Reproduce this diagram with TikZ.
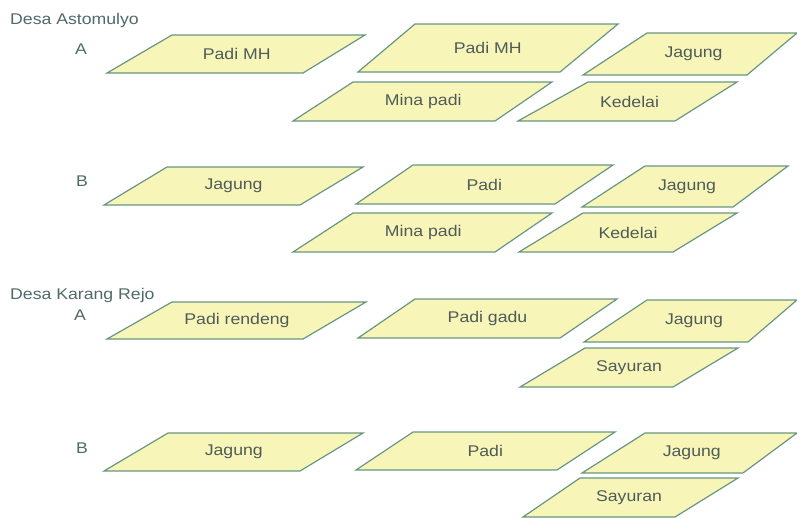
\documentclass[tikz,border=0pt]{standalone}
\usepackage{fontspec}
\setmainfont[FakeStretch=1.14]{Liberation Sans}

\definecolor{fieldfill}{RGB}{248,245,185}
\definecolor{fieldline}{RGB}{105,150,130}
\definecolor{fieldink}{RGB}{78,92,88}
\definecolor{villageink}{RGB}{80,105,105}

% #1 name, #2 top left x, #3 top right x, #4 top y, #5 bottom left x, #6 bottom right x, #7 bottom y, #8 crop
\newcommand{\plotfield}[8]{%
	\filldraw [fieldbox] (#2,#4) -- (#3,#4) -- (#6,#7) -- (#5,#7) -- cycle;
	\node [fieldlabel] (#1) at ({(#2+#3+#5+#6)/4},{(#4+#7)/2}) {#8};
}

\begin{document}
\begin{tikzpicture}[x=1pt, y=-1pt,
	fieldbox/.style={line width=1.2pt, draw=fieldline, fill=fieldfill},
	fieldlabel/.style={text=fieldink, font=\fontsize{15.5}{18}\selectfont, inner sep=0pt},
	rowlabel/.style={text=villageink, font=\fontsize{15.5}{18}\selectfont, inner sep=0pt},
	villagelabel/.style={rowlabel, anchor=west}]

\path [use as bounding box] (0,0) rectangle (797,517);

% DESA ASTOMULYO
\node [villagelabel] (asto) at (10,20) {Desa Astomulyo};
\node [rowlabel] (astoA) at (81,49) {A};
\node [rowlabel] (astoB) at (82,181) {B};

% ROW A
\plotfield{astoApadi}{172}{365}{35}{107}{303}{73}{Padi MH}
\plotfield{astoApadimh}{415}{618}{24}{358}{560}{72}{Padi MH}
\plotfield{astoAjagung}{647}{797}{33}{583}{747}{75}{Jagung}
\plotfield{astoAmina}{353}{552}{82}{293}{495}{121}{Mina padi}
\plotfield{astoAkedelai}{588}{737}{82}{518}{675}{121}{Kedelai}

% ROW B
\plotfield{astoBjagung}{167}{363}{167}{104}{300}{205}{Jagung}
\plotfield{astoBpadi}{413}{613}{165}{356}{555}{204}{Padi}
\plotfield{astoBjagungr}{645}{788}{166}{582}{733}{207}{Jagung}
\plotfield{astoBmina}{353}{552}{213}{293}{495}{252}{Mina padi}
\plotfield{astoBkedelai}{583}{737}{213}{519}{673}{252}{Kedelai}

% DESA KARANG REJO
\node [villagelabel] (karang) at (10,295) {Desa Karang Rejo};
\node [rowlabel] (karangA) at (80,315) {A};
\node [rowlabel] (karangB) at (82,448) {B};

% ROW A
\plotfield{karangArendeng}{172}{366}{302}{107}{303}{339}{Padi rendeng}
\plotfield{karangAgadu}{415}{617}{299}{358}{560}{338}{Padi gadu}
\plotfield{karangAjagung}{647}{797}{300}{584}{748}{342}{Jagung}
\plotfield{karangAsayur}{585}{738}{348}{520}{673}{387}{Sayuran}

% ROW B
\plotfield{karangBjagung}{168}{363}{433}{104}{300}{471}{Jagung}
\plotfield{karangBpadi}{413}{615}{432}{356}{557}{470}{Padi}
\plotfield{karangBjagungr}{645}{797}{433}{582}{743}{473}{Jagung}
\plotfield{karangBsayur}{580}{738}{478}{523}{675}{517}{Sayuran}

\end{tikzpicture}
\end{document}
